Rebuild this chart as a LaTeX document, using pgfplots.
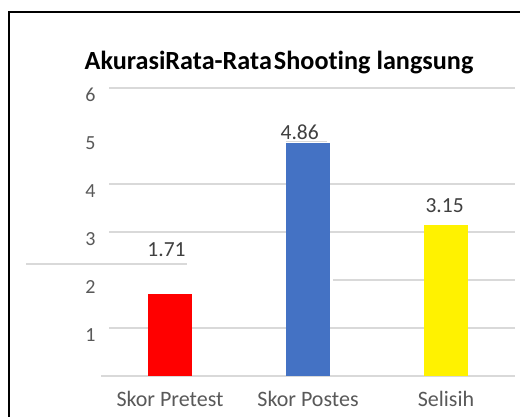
\documentclass[border=0pt]{standalone}
\usepackage{pgfplots}
\pgfplotsset{compat=1.18}
\usepackage{fontspec}
\setmainfont{Carlito}[Ligatures=NoCommon]
\definecolor{gridc}{HTML}{D9D9D9}
\definecolor{labc}{HTML}{595959}
\definecolor{datac}{HTML}{404040}
\definecolor{barblue}{HTML}{4472C4}
\begin{document}
\begin{tikzpicture}[x=1pt,y=1pt]
\useasboundingbox (0,0) rectangle (520,417);
\fill[white] (0,0) rectangle (520,417);
\draw[line width=2pt, line join=miter] (9,0) -- (9,405) -- (521,405);
\node[anchor=base, font=\bfseries\fontsize{26.2}{30}\selectfont] at (279,347) {AkurasiRata-Rata\hspace{2pt}Shooting langsung};
\draw[gridc, line width=1.3pt] (26,153) -- (187,153);
\begin{axis}[
  at={(101pt,41pt)}, anchor=south west,
  scale only axis, width=414pt, height=288pt,
  xmin=-0.5, xmax=2.5, ymin=0, ymax=6,
  axis line style={draw=none},
  major tick length=0pt,
  xtick={0,1,2},
  xticklabels={Skor Pretest, Skor Postes, Selisih},
  ytick={1,2,3,4,5,6},
  yticklabels={1,2,3,4,5,6},
  xticklabel style={font=\fontsize{22}{24}\selectfont, text=labc, yshift=-12pt},
  yticklabel style={font=\fontsize{20}{22}\selectfont, text=labc, xshift=-2pt, yshift=-7pt},
  ybar, bar width=44pt, bar shift=0pt,
  clip=false,
]
% gridlines
\draw[gridc, line width=1.3pt] (axis cs:-0.5,0) -- (axis cs:2.5,0);
\draw[gridc, line width=1.3pt] (axis cs:-0.442,1) -- (axis cs:2.5,1);
\draw[gridc, line width=1.3pt] (axis cs:1.18,2) -- (axis cs:2.5,2);
\draw[gridc, line width=1.3pt] (axis cs:-0.442,3) -- (axis cs:2.5,3);
\draw[gridc, line width=1.3pt] (axis cs:-0.442,4) -- (axis cs:2.5,4);
\draw[gridc, line width=1.3pt] (axis cs:-0.442,6) -- (axis cs:2.5,6);
\addplot[draw=none, fill=red] coordinates {(0,1.71)};
\addplot[draw=none, fill=barblue] coordinates {(1,4.86)};
\addplot[draw=none, fill=yellow] coordinates {(2,3.15)};
\draw[gridc, line width=1.3pt] (axis cs:0.84,4.88) -- (axis cs:1.14,4.88);
\node[font=\fontsize{21.5}{24}\selectfont, text=datac] at (axis cs:-0.025,2.625) {1.71};
\node[font=\fontsize{21.5}{24}\selectfont, text=datac] at (axis cs:0.94,5.08) {4.86};
\node[font=\fontsize{21.5}{24}\selectfont, text=datac] at (axis cs:1.99,3.56) {3.15};
\end{axis}
\end{tikzpicture}
\end{document}
